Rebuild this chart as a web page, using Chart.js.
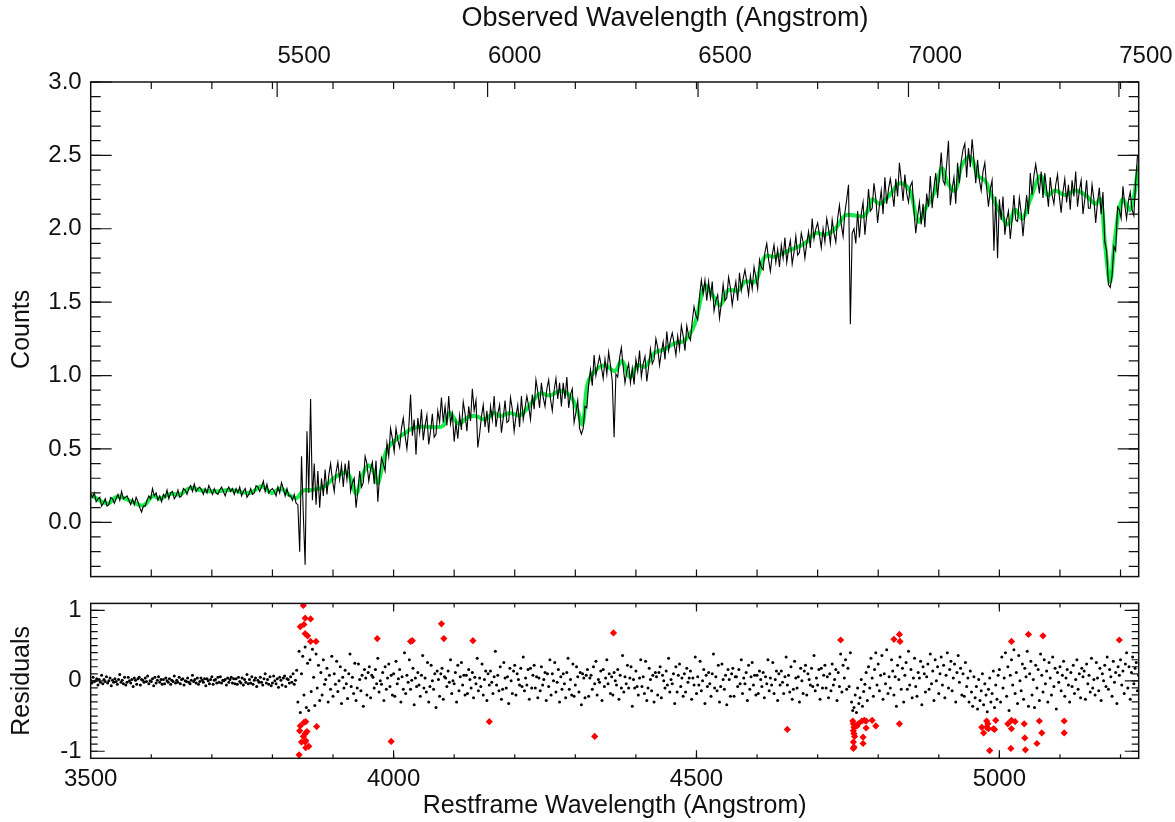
<!DOCTYPE html>
<html>
<head>
<meta charset="utf-8">
<script src="https://cdn.jsdelivr.net/npm/chart.js@4.4.1/dist/chart.umd.min.js"></script>
<style>
  body { margin: 0; background: #fff; width: 1175px; height: 822px; overflow: hidden; position: relative; }
  canvas { position: absolute; left: 0; }
  #spec { top: 0; }
  #resid { top: 580px; }
</style>
</head>
<body>
<canvas id="spec" width="1175" height="600"></canvas>
<canvas id="resid" width="1175" height="242"></canvas>
<script>
// wavelength grids (restframe, Angstrom)
var restStart = 3500;
var fluxStep = 3;
var residStep = 2;

// observed spectrum, one value every 3 A from 3500
var fluxValues = [
  0.19,0.17,0.20,0.14,0.16,0.17,0.11,0.13,0.16,0.11,
  0.12,0.17,0.16,0.13,0.16,0.19,0.15,0.21,0.16,0.17,
  0.18,0.15,0.12,0.16,0.12,0.17,0.14,0.10,0.07,0.11,
  0.11,0.15,0.18,0.16,0.23,0.18,0.20,0.15,0.18,0.14,
  0.19,0.17,0.22,0.16,0.20,0.21,0.16,0.18,0.22,0.17,
  0.18,0.23,0.22,0.19,0.23,0.25,0.21,0.26,0.21,0.23,
  0.24,0.22,0.19,0.23,0.20,0.25,0.22,0.19,0.23,0.20,
  0.19,0.22,0.24,0.21,0.18,0.22,0.24,0.21,0.23,0.19,
  0.23,0.20,0.24,0.18,0.21,0.23,0.17,0.19,0.23,0.19,
  0.20,0.25,0.24,0.21,0.24,0.28,0.21,0.26,0.20,0.22,
  0.23,0.21,0.18,0.24,0.20,0.27,0.23,0.18,0.23,0.18,
  0.18,0.15,0.19,0.13,0.12,-0.20,0.45,0.05,-0.29,0.62,
  0.20,0.84,0.15,0.40,0.12,0.35,0.10,0.30,0.18,0.36,
  0.19,0.32,0.40,0.29,0.21,0.34,0.41,0.29,0.39,0.24,
  0.40,0.29,0.42,0.21,0.27,0.30,0.10,0.21,0.35,0.24,
  0.27,0.45,0.40,0.28,0.36,0.41,0.26,0.42,0.14,0.32,
  0.44,0.40,0.35,0.54,0.45,0.64,0.57,0.48,0.64,0.56,
  0.51,0.64,0.71,0.59,0.50,0.64,0.87,0.59,0.70,0.46,
  0.71,0.61,0.77,0.56,0.66,0.73,0.53,0.62,0.74,0.58,
  0.60,0.76,0.68,0.85,0.68,0.79,0.66,0.86,0.67,0.74,
  0.55,0.68,0.57,0.73,0.63,0.82,0.74,0.62,0.79,0.69,
  0.91,0.76,0.83,0.51,0.60,0.72,0.80,0.65,0.76,0.61,
  0.79,0.70,0.86,0.65,0.74,0.80,0.61,0.71,0.83,0.68,
  0.69,0.85,0.77,0.62,0.72,0.80,0.65,0.86,0.70,0.78,
  0.86,0.79,0.70,0.87,0.77,0.97,0.89,0.78,0.95,0.85,
  0.79,0.91,0.97,0.84,0.76,0.90,0.98,0.84,0.95,0.79,
  0.95,0.84,0.99,0.78,0.87,0.91,0.68,0.75,0.83,0.64,
  0.60,0.64,0.79,0.78,0.94,1.04,0.93,1.14,1.00,1.07,
  1.13,1.06,0.98,1.11,1.01,1.16,1.07,0.96,0.58,1.01,
  0.99,1.12,1.19,1.06,0.95,1.03,1.08,0.95,1.05,0.94,
  1.11,1.03,1.17,0.99,1.08,1.13,0.96,1.06,1.18,1.08,
  1.11,1.25,1.19,1.07,1.16,1.23,1.11,1.30,1.17,1.24,
  1.29,1.22,1.14,1.27,1.18,1.34,1.27,1.17,1.34,1.27,
  1.24,1.37,1.47,1.41,1.38,1.54,1.65,1.56,1.65,1.51,
  1.64,1.53,1.64,1.44,1.51,1.55,1.39,1.49,1.62,1.51,
  1.53,1.67,1.60,1.48,1.57,1.64,1.51,1.70,1.58,1.66,
  1.72,1.64,1.55,1.68,1.59,1.74,1.67,1.59,1.79,1.74,
  1.72,1.84,1.90,1.79,1.71,1.82,1.89,1.77,1.86,1.74,
  1.89,1.80,1.94,1.77,1.86,1.92,1.76,1.84,1.95,1.82,
  1.84,1.97,1.91,1.80,1.90,1.98,1.87,2.07,1.93,2.00,
  2.04,1.96,1.87,2.00,1.91,2.07,2.00,1.90,2.06,1.97,
  1.91,2.07,2.16,2.03,1.95,2.11,2.20,2.30,1.35,1.97,
  2.00,1.90,2.12,1.94,2.10,2.18,1.96,2.09,2.27,2.12,
  2.14,2.31,2.21,2.04,2.16,2.26,2.10,2.35,2.17,2.27,
  2.34,2.25,2.15,2.34,2.22,2.45,2.33,2.19,2.37,2.24,
  2.18,2.29,2.32,2.12,1.97,2.08,2.18,2.03,2.17,2.01,
  2.24,2.15,2.36,2.14,2.28,2.38,2.21,2.36,2.52,2.33,
  2.30,2.44,2.60,2.16,2.27,2.35,2.17,2.45,2.31,2.46,
  2.54,2.58,2.35,2.55,2.42,2.61,2.47,2.31,2.47,2.33,
  2.26,2.39,2.45,2.28,2.15,2.27,2.33,1.85,2.22,1.80,
  2.20,2.06,2.22,1.96,2.06,2.12,1.93,2.06,2.23,2.06,
  2.05,2.21,2.11,1.95,2.10,2.23,2.10,2.38,2.23,2.36,
  2.44,2.35,2.24,2.39,2.21,2.38,2.27,2.15,2.35,2.23,
  2.17,2.30,2.37,2.22,2.11,2.25,2.34,2.18,2.30,2.13,
  2.33,2.22,2.39,2.15,2.26,2.33,2.10,2.20,2.33,2.14,
  2.14,2.30,2.20,2.04,2.18,2.28,2.10,2.25,1.91,1.85,
  1.62,1.60,1.68,1.88,1.85,2.15,2.13,2.07,2.29,2.16,
  2.07,2.19,2.25,2.13,2.09,2.32,2.50
];

// model fit (green), knots
var modelWave = [3500,3502,3515,3529,3540,3548,3570,3587,3603,3614,3631,3647,3664,3680,3705,3730,3763,3782,3799,3813,
  3830,3840,3851,3862,3884,3901,3920,3928,3938,3947,3958,3967,3974,3980,3989,4000,4016,4033,4055,4071,
  4082,4093,4107,4123,4137,4151,4165,4176,4192,4209,4225,4242,4258,4275,4291,4303,4312,4320,4332,4349,
  4365,4377,4390,4403,4415,4431,4448,4464,4481,4497,4514,4526,4539,4552,4569,4580,4597,4613,4630,4646,
  4663,4679,4696,4712,4729,4745,4762,4778,4790,4803,4819,4836,4852,4866,4877,4894,4905,4915,4927,4938,
  4952,4965,4976,4985,5001,5015,5026,5038,5051,5068,5079,5092,5109,5125,5142,5158,5167,5175,5183,5191,
  5203,5216,5230];
var modelFlux = [0.17,0.18,0.148,0.128,0.167,0.174,0.137,0.115,0.18,0.16,0.193,0.19,0.234,0.219,0.21,0.22,0.20,0.245,0.20,0.23,
  0.18,0.166,0.217,0.219,0.239,0.30,0.34,0.31,0.195,0.30,0.387,0.343,0.267,0.356,0.495,0.55,0.60,0.643,0.651,0.647,
  0.658,0.745,0.673,0.716,0.723,0.70,0.745,0.723,0.745,0.73,0.80,0.877,0.864,0.895,0.864,0.77,0.67,0.94,1.03,1.07,
  1.03,1.10,0.99,1.07,1.06,1.155,1.18,1.22,1.24,1.35,1.61,1.55,1.48,1.58,1.58,1.64,1.64,1.81,1.81,1.84,
  1.87,1.90,1.97,1.96,2.00,2.09,2.09,2.09,2.20,2.17,2.23,2.31,2.26,2.05,2.13,2.26,2.41,2.31,2.26,2.43,
  2.49,2.36,2.33,2.25,2.11,2.03,2.13,2.07,2.20,2.36,2.23,2.26,2.23,2.26,2.23,2.17,2.20,1.87,1.64,1.94,
  2.20,2.13,2.43];

// residuals, one value every 2 A from 3500
var residValues = [
  0.01,-0.03,0.05,-0.01,0.00,0.03,-0.06,0.02,-0.02,0.08,
  -0.04,0.02,-0.01,0.06,-0.03,0.00,0.04,-0.07,0.01,-0.02,
  0.03,-0.01,-0.05,0.02,0.09,-0.02,0.01,-0.04,0.05,-0.06,
  -0.02,0.05,0.00,-0.03,0.02,-0.08,0.04,0.01,-0.05,0.03,
  0.05,-0.06,0.02,0.01,-0.02,0.04,-0.01,0.07,-0.04,0.00,
  -0.01,0.03,-0.07,0.05,-0.03,0.01,0.06,-0.02,0.02,-0.05,
  0.02,-0.04,0.04,0.00,-0.02,0.03,-0.05,0.01,-0.01,0.07,
  -0.03,0.01,-0.02,0.05,-0.04,0.02,0.03,-0.06,0.00,-0.01,
  0.04,-0.02,-0.04,0.01,0.08,-0.01,0.02,-0.03,0.04,-0.05,
  -0.01,0.04,0.01,-0.02,0.03,-0.07,0.03,0.00,-0.04,0.02,
  0.06,-0.05,0.01,0.02,-0.03,0.05,-0.02,0.06,-0.03,0.01,
  0.00,0.02,-0.06,0.04,-0.02,0.02,0.05,-0.03,0.03,-0.04,
  0.03,-0.05,0.05,-0.01,-0.03,0.04,-0.06,0.02,-0.02,0.09,
  -0.04,0.02,-0.03,0.06,-0.05,0.01,0.04,-0.08,0.01,-0.02,
  0.05,-0.02,-0.06,0.03,0.10,-0.03,0.02,-0.05,0.06,-0.07,
  -0.03,0.07,0.00,-0.04,0.03,-0.09,0.05,0.01,-0.06,0.04,
  0.07,-0.08,0.03,0.02,-0.03,0.06,-0.02,0.10,-0.05,0.01,
  0.15,-0.30,0.42,-0.45,0.10,0.35,-0.20,0.48,-0.38,0.25,
  -0.42,0.30,-0.15,0.45,0.05,-0.35,0.38,-0.10,0.22,-0.28,
  0.12,-0.20,0.30,-0.05,0.02,0.18,-0.30,0.08,-0.12,0.35,
  -0.22,0.10,-0.05,0.28,-0.15,0.00,0.20,-0.32,0.05,-0.10,
  0.15,-0.04,-0.25,0.10,0.38,-0.08,0.05,-0.18,0.25,-0.28,
  -0.10,0.24,0.02,-0.14,0.08,-0.36,0.16,0.04,-0.20,0.12,
  0.20,-0.24,0.08,0.05,-0.10,0.16,-0.04,0.32,-0.16,0.00,
  -0.05,0.12,-0.28,0.20,-0.12,0.04,0.24,-0.08,0.08,-0.20,
  0.10,-0.22,0.28,-0.04,0.03,0.16,-0.30,0.06,-0.12,0.40,
  -0.18,0.08,-0.02,0.30,-0.12,0.01,0.18,-0.34,0.04,-0.08,
  0.12,-0.06,-0.22,0.08,0.36,-0.10,0.04,-0.16,0.26,-0.30,
  -0.08,0.22,0.00,-0.12,0.10,-0.38,0.14,0.02,-0.22,0.10,
  0.18,-0.26,0.06,0.04,-0.08,0.14,-0.02,0.30,-0.18,0.00,
  -0.04,0.12,-0.30,0.22,-0.14,0.06,0.26,-0.06,0.08,-0.20,
  0.08,-0.18,0.16,0.02,-0.10,0.12,-0.24,0.05,-0.04,0.32,
  -0.14,0.04,-0.08,0.24,-0.20,0.02,0.14,-0.28,0.10,-0.06,
  0.14,-0.02,-0.18,0.06,0.42,-0.06,0.08,-0.14,0.20,-0.26,
  -0.12,0.26,0.04,-0.10,0.06,-0.32,0.18,0.00,-0.18,0.14,
  0.22,-0.20,0.10,0.02,-0.06,0.18,-0.08,0.34,-0.14,0.04,
  -0.06,0.16,-0.26,0.18,-0.10,0.08,0.22,-0.10,0.06,-0.24,
  0.04,-0.14,0.20,-0.06,0.02,0.12,-0.28,0.10,-0.08,0.30,
  -0.20,0.10,0.00,0.26,-0.16,-0.02,0.16,-0.30,0.06,-0.12,
  0.10,-0.04,-0.24,0.12,0.32,-0.12,0.02,-0.20,0.24,-0.22,
  -0.06,0.20,0.06,-0.16,0.12,-0.34,0.10,0.04,-0.24,0.08,
  0.16,-0.22,0.04,0.08,-0.12,0.20,-0.04,0.28,-0.20,0.02,
  -0.02,0.14,-0.28,0.16,-0.08,0.04,0.30,-0.04,0.10,-0.18,
  0.06,-0.20,0.12,0.00,-0.06,0.16,-0.26,0.08,-0.10,0.36,
  -0.16,0.06,-0.04,0.22,-0.10,0.04,0.20,-0.36,0.02,-0.10,
  0.14,-0.08,-0.20,0.04,0.30,-0.08,0.06,-0.18,0.28,-0.28,
  -0.10,0.18,0.02,-0.14,0.08,-0.30,0.12,0.06,-0.20,0.12,
  0.20,-0.24,0.08,0.00,-0.10,0.14,-0.06,0.32,-0.16,0.02,
  -0.04,0.10,-0.32,0.20,-0.16,0.08,0.24,-0.08,0.04,-0.22,
  0.10,-0.16,0.18,-0.02,0.04,0.14,-0.26,0.04,-0.06,0.34,
  -0.18,0.06,-0.06,0.28,-0.14,0.00,0.16,-0.32,0.08,-0.08,
  0.12,-0.04,-0.22,0.10,0.38,-0.10,0.06,-0.14,0.22,-0.30,
  -0.08,0.24,0.02,-0.12,0.08,-0.34,0.16,0.02,-0.22,0.10,
  0.18,-0.22,0.06,0.06,-0.08,0.16,-0.04,0.30,-0.18,0.04,
  -0.04,0.12,-0.28,0.22,-0.12,0.06,0.26,-0.06,0.08,-0.20,
  0.08,-0.18,0.14,0.02,-0.08,0.12,-0.24,0.06,-0.04,0.30,
  -0.14,0.04,-0.06,0.26,-0.18,0.02,0.14,-0.28,0.10,-0.06,
  0.14,-0.02,-0.18,0.06,0.34,-0.06,0.08,-0.16,0.20,-0.26,
  -0.12,0.28,0.04,-0.10,0.06,-0.30,0.18,0.00,-0.18,0.14,
  0.22,-0.20,0.10,0.02,-0.06,0.18,-0.08,0.36,-0.14,0.04,
  -0.06,0.16,-0.26,0.18,-0.10,0.08,0.22,-0.10,0.06,-0.24,
  0.10,-0.14,0.24,-0.06,0.02,0.16,-0.28,0.12,-0.08,0.38,
  -0.16,0.22,0.04,0.30,-0.12,0.18,-0.08,0.40,-0.30,-0.42,
  -0.38,-0.20,-0.45,-0.10,-0.32,-0.24,0.02,-0.36,-0.15,-0.05,
  0.12,-0.28,0.20,-0.10,0.32,0.04,-0.22,0.16,0.40,-0.06,
  0.24,-0.14,0.08,0.36,-0.26,0.10,-0.04,0.44,-0.18,0.06,
  -0.10,0.30,0.14,-0.20,0.06,-0.36,0.22,0.02,0.34,-0.12,
  0.18,-0.30,0.08,0.26,-0.12,0.42,-0.06,0.16,-0.24,0.04,
  0.32,-0.08,-0.22,0.12,0.04,0.28,-0.34,0.20,0.10,-0.16,
  0.06,0.24,-0.12,0.38,-0.04,0.14,-0.28,0.30,0.00,0.20,
  -0.18,0.10,0.34,-0.06,0.22,-0.24,0.08,0.40,-0.10,0.16,
  0.28,-0.14,0.04,0.24,-0.30,0.12,0.36,-0.02,0.18,-0.20,
  0.10,-0.22,0.26,-0.08,0.04,-0.30,0.14,-0.16,-0.36,0.06,
  -0.24,-0.08,-0.40,0.02,-0.28,-0.14,0.10,-0.34,-0.04,-0.20,
  -0.44,-0.12,0.04,-0.30,-0.18,0.14,-0.38,-0.06,-0.26,0.08,
  0.16,-0.30,0.34,-0.10,0.04,0.40,-0.22,0.20,-0.42,0.08,
  0.30,-0.06,0.44,-0.18,0.12,-0.32,0.36,0.00,-0.14,0.24,
  -0.26,0.18,0.06,0.42,-0.36,0.10,0.28,-0.20,0.02,-0.38,
  0.22,-0.10,0.16,-0.28,0.38,0.08,-0.16,0.30,-0.04,0.14,
  -0.30,0.26,0.04,-0.20,0.34,-0.08,0.18,-0.40,0.12,-0.02,
  0.20,-0.14,0.08,0.28,-0.22,0.04,0.16,-0.06,-0.30,0.12,
  -0.08,0.22,-0.18,0.02,0.30,-0.12,0.10,-0.24,0.18,0.06,
  0.14,-0.26,0.24,-0.04,0.08,-0.16,0.32,-0.10,0.02,-0.20,
  0.26,0.04,-0.14,0.18,-0.28,0.10,0.00,0.22,-0.08,0.34,
  -0.12,0.16,0.06,-0.22,0.28,-0.02,0.12,-0.32,0.20,0.08,
  0.30,-0.06,0.14,-0.18,0.24,0.40,-0.10,0.20,-0.26,0.12,
  0.34,-0.04,0.18,0.26,-0.14,0.08
];

// rejected pixels (red)
var outlierWave = [3851,3854,3863,3846,3852,3854,3858,3863,3872,3973,4028,4031,4079,4083,4131,4158,3996,3873,3846,3845,
  3852,3855,3854,3857,3851,3848,3855,3854,3855,3860,3844,4332,4363,4650,4738,4758,4759,4760,4759,4760,
  4761,4759,4760,4759,4765,4767,4773,4777,4780,4780,4790,4796,4775,4775,4826,4835,4836,4835,4971,4974,
  4979,4981,4979,4982,4990,4994,4992,4984,5014,5020,5026,5020,5019,5020,5041,5042,5043,5048,5062,5066,
  5070,5072,5107,5107,5198];
var outlierResid = [1.07,0.89,0.88,0.77,0.80,0.67,0.64,0.56,0.56,0.60,0.56,0.57,0.81,0.60,0.57,-0.58,-0.86,-0.65,-0.64,-0.71,
  -0.59,-0.58,-0.75,-0.72,-0.79,-0.87,-0.85,-0.87,-0.95,-0.93,-1.05,-0.79,0.68,-0.69,0.58,-0.57,-0.61,-0.66,-0.71,-0.75,
  -0.79,-0.87,-0.94,-0.96,-0.64,-0.61,-0.57,-0.56,-0.57,-0.67,-0.56,-0.64,-0.80,-0.89,0.59,0.66,0.56,-0.61,-0.66,-0.74,
  -0.57,-0.61,-0.66,-0.68,-0.68,-0.56,-0.69,-0.99,-0.61,-0.56,-0.58,-0.68,-0.96,0.56,-0.61,-0.81,-0.98,0.66,-0.89,-0.57,
  -0.74,0.64,-0.57,-0.74,0.58];

var restMin = 3500, restMax = 5230;
var obsMin = 5057, obsMax = 7547;
var restLabels = [3500, 4000, 4500, 5000];
var obsLabels = [5500, 6000, 6500, 7000, 7500];

var FONT = "'Liberation Sans', Arial, Helvetica, sans-serif";
var INK = '#111';

function range(a, b, step) {
  var out = [];
  var n = Math.round((b - a) / step);
  for (var i = 0; i <= n; i++) out.push(Math.round((a + i * step) * 1000) / 1000);
  return out;
}

// draws the box and the inward ticks, IDL style
function frame(specs, extra) {
  return {
    id: 'frame',
    afterDatasetsDraw: function (chart) {
      var ctx = chart.ctx, a = chart.chartArea;
      ctx.save();
      ctx.strokeStyle = INK;
      ctx.lineWidth = 1.5;
      ctx.strokeRect(a.left, a.top, a.right - a.left, a.bottom - a.top);
      ctx.lineWidth = 1.2;
      specs.forEach(function (t) {
        var s = chart.scales[t.scale];
        ctx.beginPath();
        t.values.forEach(function (v) {
          var p = s.getPixelForValue(v);
          t.sides.forEach(function (side) {
            if (side === 'left') { ctx.moveTo(a.left, p); ctx.lineTo(a.left + t.len, p); }
            if (side === 'right') { ctx.moveTo(a.right, p); ctx.lineTo(a.right - t.len, p); }
            if (side === 'top') { ctx.moveTo(p, a.top); ctx.lineTo(p, a.top + t.len); }
            if (side === 'bottom') { ctx.moveTo(p, a.bottom); ctx.lineTo(p, a.bottom - t.len); }
          });
        });
        ctx.stroke();
      });
      if (extra) extra(ctx, chart);
      ctx.restore();
    }
  };
}

function fixedTicks(list) {
  return function (s) { s.ticks = list.map(function (v) { return { value: v }; }); };
}

var fluxPoints = fluxValues.map(function (v, i) { return { x: restStart + i * fluxStep, y: v }; });
var modelPoints = modelWave.map(function (w, i) { return { x: w, y: modelFlux[i] }; });
var residPoints = residValues.map(function (v, i) { return { x: restStart + i * residStep, y: v }; });
var outlierPoints = outlierWave.map(function (w, i) { return { x: w, y: outlierResid[i] }; });

var tickFont = { family: FONT, size: 24 };
var titleFont = { family: FONT, size: 25 };

new Chart(document.getElementById('spec'), {
  type: 'line',
  data: {
    datasets: [
      { data: fluxPoints, borderColor: '#000', borderWidth: 1.1, pointRadius: 0, tension: 0 },
      { data: modelPoints, borderColor: '#18ec4c', borderWidth: 4, pointRadius: 0, tension: 0.4 }
    ]
  },
  options: {
    responsive: false,
    animation: false,
    devicePixelRatio: 1,
    layout: { padding: { left: 0, right: 36.3, top: 0, bottom: 0 } },
    plugins: { legend: { display: false }, tooltip: { enabled: false } },
    scales: {
      x: { type: 'linear', min: restMin, max: restMax, display: false },
      x2: {
        type: 'linear', position: 'top', min: obsMin, max: obsMax,
        grid: { display: false, drawTicks: false },
        border: { display: false },
        afterBuildTicks: fixedTicks(obsLabels),
        ticks: { autoSkip: false, maxRotation: 0, labelOffset: 27, padding: 11,
                 color: INK, font: tickFont, callback: function (v) { return String(v); } },
        afterFit: function (s) { s.height = 82; }
      },
      y: {
        type: 'linear', min: -0.37, max: 3.0,
        grid: { display: false, drawTicks: false },
        border: { display: false },
        ticks: { stepSize: 0.5, includeBounds: false, autoSkip: false, padding: 9, color: INK, font: tickFont,
                 callback: function (v) { return v.toFixed(1); } },
        title: { display: true, text: 'Counts', color: INK, font: titleFont, padding: { top: 7, bottom: 0 } },
        afterFit: function (s) { s.width = 90.7; }
      }
    }
  },
  plugins: [frame([
    { scale: 'y', values: range(-0.3, 3.0, 0.1), len: 10, sides: ['left', 'right'] },
    { scale: 'y', values: range(0, 3.0, 0.5), len: 21, sides: ['left', 'right'] },
    { scale: 'x', values: range(3600, 5200, 100), len: 7, sides: ['top', 'bottom'] },
    { scale: 'x2', values: obsLabels, len: 15, sides: ['top'] }
  ], function (ctx) {
    ctx.fillStyle = INK;
    ctx.font = '27px ' + FONT;
    ctx.textAlign = 'center';
    ctx.textBaseline = 'middle';
    ctx.fillText('Observed Wavelength (Angstrom)', 665, 19);
  })]
});

new Chart(document.getElementById('resid'), {
  type: 'scatter',
  data: {
    datasets: [
      { data: outlierPoints, pointStyle: 'rectRot', pointRadius: 3.6, backgroundColor: '#ff0000', borderWidth: 0 },
      { data: residPoints, pointStyle: 'circle', pointRadius: 1.5, backgroundColor: '#000', borderWidth: 0 },
      { data: outlierPoints, pointStyle: 'circle', pointRadius: 1, backgroundColor: '#000', borderWidth: 0 }
    ]
  },
  options: {
    responsive: false,
    animation: false,
    devicePixelRatio: 1,
    layout: { padding: { left: 0, right: 36.3, top: 20, bottom: 0 } },
    plugins: { legend: { display: false }, tooltip: { enabled: false } },
    scales: {
      x: {
        type: 'linear', min: restMin, max: restMax,
        grid: { display: false, drawTicks: false },
        border: { display: false },
        afterBuildTicks: fixedTicks(restLabels),
        ticks: { autoSkip: false, maxRotation: 0, padding: 7, color: INK, font: tickFont,
                 callback: function (v) { return String(v); } },
        title: { display: true, text: 'Restframe Wavelength (Angstrom)', color: INK, font: titleFont, padding: { top: 0, bottom: 1 } },
        afterFit: function (s) { s.height = 63.7; }
      },
      y: {
        type: 'linear', min: -1.1, max: 1.1,
        grid: { display: false, drawTicks: false },
        border: { display: false },
        afterBuildTicks: fixedTicks([-1, 0, 1]),
        ticks: { autoSkip: false, padding: 9, color: INK, font: tickFont,
                 callback: function (v) { return String(v); } },
        title: { display: true, text: 'Residuals', color: INK, font: titleFont, padding: { top: 7, bottom: 0 } },
        afterFit: function (s) { s.width = 90.7; }
      }
    }
  },
  plugins: [frame([
    { scale: 'y', values: range(-1.0, 1.0, 0.1), len: 7, sides: ['left', 'right'] },
    { scale: 'y', values: [-1, 0, 1], len: 14, sides: ['left', 'right'] },
    { scale: 'x', values: range(3600, 5200, 100), len: 4, sides: ['top', 'bottom'] },
    { scale: 'x', values: [4000, 4500, 5000], len: 8, sides: ['top', 'bottom'] }
  ])]
});
</script>
</body>
</html>
